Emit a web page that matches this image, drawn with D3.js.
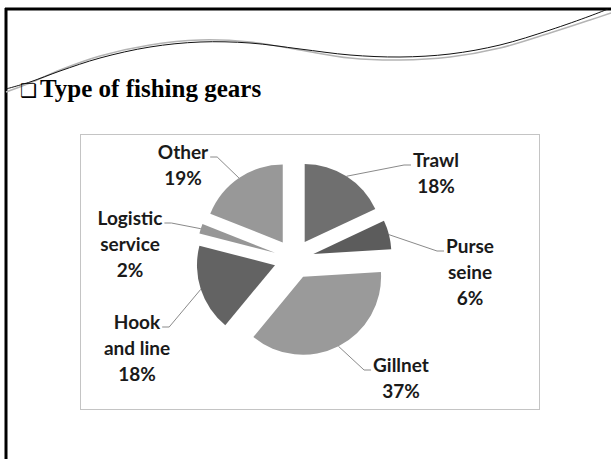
<!DOCTYPE html>
<html>
<head>
<meta charset="utf-8">
<script src="https://cdn.jsdelivr.net/npm/d3@7"></script>
<style>
  html, body { margin: 0; padding: 0; background: #fff; }
  svg { display: block; }
</style>
</head>
<body>
<svg id="slide" width="611" height="459"></svg>
<script>
// Fishing gear shares (%), clockwise from 12 o'clock
const categories = ["Trawl", "Purse seine", "Gillnet", "Hook and line", "Logistic service", "Other"];
const shares = [18, 6, 37, 18, 2, 19];
const labelLines = [["Trawl"], ["Purse", "seine"], ["Gillnet"], ["Hook", "and line"], ["Logistic", "service"], ["Other"]];
const sliceColors = ["#6f6f6f", "#5c5c5c", "#9a9a9a", "#636363", "#979797", "#989898"];

// Label block placement: centre x and first baseline y
const labelAt = [[436, 167], [470, 253], [401, 372], [137, 329], [130, 225], [183, 159]];

const W = 611, H = 459;
const svg = d3.select("#slide");

// slide frame (top and left rules)
svg.append("line").attr("x1", 5).attr("x2", W).attr("y1", 9).attr("y2", 9)
  .attr("stroke", "#000").attr("stroke-width", 3);
svg.append("line").attr("x1", 6).attr("x2", 6).attr("y1", 8).attr("y2", H)
  .attr("stroke", "#000").attr("stroke-width", 3);

// decorative swoosh
const swooshDark = [[6,89],[30,82],[60,71],[100,58],[150,47],[200,42],[250,43],[300,49],[350,55],[400,57],[450,54],[500,45],[550,30],[590,16],[608,9]];
const swooshLight = [[6,92],[30,83],[60,70],[100,56],[150,45],[200,40],[250,42],[300,50],[350,58],[400,60],[450,57],[500,48],[550,33],[590,20],[611,13]];
const curve = d3.line().curve(d3.curveCatmullRom);
svg.append("path").attr("d", curve(swooshLight)).attr("fill", "none")
  .attr("stroke", "#b4b4b4").attr("stroke-width", 1.5);
svg.append("path").attr("d", curve(swooshDark)).attr("fill", "none")
  .attr("stroke", "#111").attr("stroke-width", 1);

// heading
const heading = svg.append("text").attr("x", 20).attr("y", 97)
  .attr("font-family", "Liberation Serif").attr("font-weight", "bold")
  .attr("font-size", 25).attr("fill", "#000");
heading.append("tspan").attr("font-family", "DejaVu Sans").attr("font-weight", "normal")
  .attr("font-size", 19).text("\u2751");
heading.append("tspan").attr("dx", 3).text("Type of fishing gears");

// chart area
svg.append("rect").attr("x", 80.5).attr("y", 134.5).attr("width", 459).attr("height", 275)
  .attr("fill", "#fff").attr("stroke", "#c4c4c4").attr("stroke-width", 1);

const cx = 294, cy = 259, R = 78, explode = 20;
const pie = d3.pie().sort(null).value(d => d)(shares);
const arc = d3.arc().innerRadius(0).outerRadius(R);
const g = svg.append("g").attr("transform", `translate(${cx},${cy})`);

const offset = d => {
  const m = (d.startAngle + d.endAngle) / 2;
  return [explode * Math.sin(m), -explode * Math.cos(m)];
};

g.selectAll("path.slice").data(pie).join("path")
  .attr("class", "slice")
  .attr("d", arc)
  .attr("transform", d => `translate(${offset(d)})`)
  .attr("fill", (d, i) => sliceColors[i]);

// data labels with leader lines
const fontSize = 19, lineH = 26;
pie.forEach((d, i) => {
  const [lx, ly] = labelAt[i];
  const t = svg.append("text").attr("text-anchor", "middle")
    .attr("font-family", "Lato").attr("font-weight", "bold")
    .attr("font-size", fontSize).attr("fill", "#1a1a1a");
  const lines = labelLines[i].concat([shares[i] + "%"]);
  lines.forEach((s, k) => t.append("tspan").attr("x", lx).attr("y", ly + k * lineH).text(s));

  const first = t.select("tspan").node().getComputedTextLength();
  const m = (d.startAngle + d.endAngle) / 2;
  const o = offset(d);
  const ax = cx + o[0] + R * Math.sin(m);
  const ay = cy + o[1] - R * Math.cos(m);
  const toRight = ax > lx;
  const ex = toRight ? lx + first / 2 + 2 : lx - first / 2 - 2;
  const bx = toRight ? ex + 7 : ex - 7;
  const by = ly - 2;
  svg.append("polyline")
    .attr("points", [[ex, by], [bx, by], [ax, ay]].map(p => p.join(",")).join(" "))
    .attr("fill", "none").attr("stroke", "#8a8a8a").attr("stroke-width", 1);
});
</script>
</body>
</html>
